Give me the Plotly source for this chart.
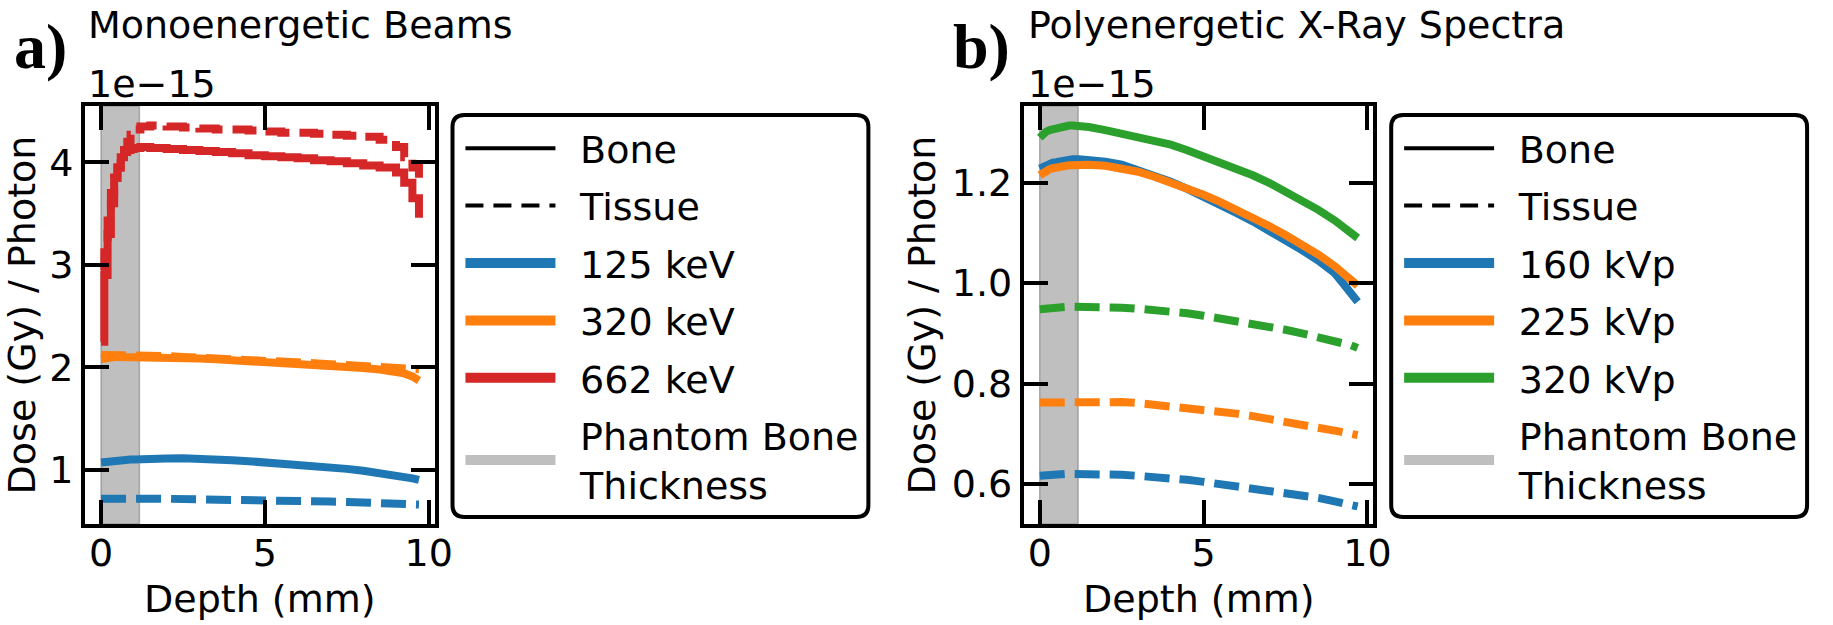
import plotly.graph_objects as go

# ---------------- data (dose per photon in units of 1e-15 Gy) ----------------
depth = [0.0, 0.1, 0.2, 0.3, 0.4, 0.5, 0.6, 0.7, 0.8, 0.9, 1.0, 1.2, 1.5, 2.0, 2.5,
         3.0, 3.5, 4.0, 4.5, 5.0, 5.5, 6.0, 6.5, 7.0, 7.5, 8.0, 8.5, 9.0, 9.25, 9.5, 9.7]

bone_thickness = [0.0, 1.17]

# panel a) monoenergetic beams
mono_labels = ["125 keV", "320 keV", "662 keV"]
mono_125_bone = [1.07, 1.075, 1.08, 1.083, 1.086, 1.089, 1.092, 1.095, 1.097, 1.099, 1.10, 1.105,
                 1.108, 1.11, 1.112, 1.11, 1.10, 1.092, 1.083, 1.073, 1.062, 1.05, 1.037, 1.023,
                 1.008, 0.99, 0.97, 0.945, 0.93, 0.915, 0.90]
mono_125_tissue = [0.716, 0.717, 0.718, 0.718, 0.718, 0.718, 0.718, 0.718, 0.718, 0.718, 0.718,
                   0.718, 0.717, 0.716, 0.715, 0.713, 0.711, 0.709, 0.706, 0.703, 0.70, 0.697,
                   0.693, 0.689, 0.685, 0.68, 0.675, 0.669, 0.666, 0.663, 0.66]
mono_320_bone = [2.08, 2.09, 2.095, 2.10, 2.10, 2.10, 2.10, 2.10, 2.10, 2.10, 2.10, 2.10, 2.10,
                 2.095, 2.09, 2.085, 2.078, 2.07, 2.062, 2.055, 2.047, 2.038, 2.028, 2.018,
                 2.006, 1.993, 1.978, 1.955, 1.94, 1.91, 1.87]
mono_320_tissue = [2.12, 2.12, 2.12, 2.12, 2.12, 2.12, 2.12, 2.12, 2.12, 2.12, 2.12, 2.12, 2.115,
                   2.11, 2.10, 2.095, 2.088, 2.08, 2.073, 2.065, 2.057, 2.048, 2.04, 2.03, 2.02,
                   2.01, 2.0, 1.993, 1.99, 1.985, 1.98]
mono_662_bone = [2.25, 2.9, 3.3, 3.6, 3.85, 3.95, 4.05, 4.1, 4.12, 4.13, 4.14, 4.15, 4.14, 4.13,
                 4.12, 4.11, 4.10, 4.09, 4.07, 4.06, 4.05, 4.04, 4.02, 4.01, 3.99, 3.97, 3.95,
                 3.90, 3.80, 3.65, 3.46]
mono_662_tissue = [2.95, 3.2, 3.5, 3.7, 3.85, 3.95, 4.05, 4.12, 4.2, 4.27, 4.32, 4.35, 4.36, 4.35,
                   4.34, 4.33, 4.32, 4.32, 4.31, 4.30, 4.29, 4.29, 4.28, 4.27, 4.26, 4.25, 4.22,
                   4.15, 4.05, 3.95, 3.85]

# panel b) polyenergetic x-ray spectra
poly_labels = ["160 kVp", "225 kVp", "320 kVp"]
poly_160_bone = [1.228, 1.232, 1.235, 1.238, 1.24, 1.241, 1.243, 1.244, 1.245, 1.246, 1.247,
                 1.247, 1.246, 1.242, 1.236, 1.226, 1.215, 1.202, 1.188, 1.173, 1.157, 1.14,
                 1.123, 1.105, 1.085, 1.066, 1.045, 1.02, 1.0, 0.98, 0.963]
poly_160_tissue = [0.616, 0.617, 0.618, 0.618, 0.619, 0.619, 0.62, 0.62, 0.62, 0.62, 0.62, 0.62,
                   0.62, 0.619, 0.618, 0.616, 0.614, 0.611, 0.608, 0.604, 0.60, 0.596, 0.592,
                   0.587, 0.583, 0.578, 0.572, 0.565, 0.562, 0.558, 0.555]
poly_225_bone = [1.215, 1.22, 1.224, 1.227, 1.229, 1.231, 1.232, 1.233, 1.234, 1.235, 1.235,
                 1.236, 1.236, 1.234, 1.229, 1.222, 1.212, 1.201, 1.189, 1.176, 1.162, 1.147,
                 1.131, 1.114, 1.096, 1.077, 1.057, 1.034, 1.02, 1.007, 0.995]
poly_225_tissue = [0.762, 0.762, 0.763, 0.763, 0.764, 0.764, 0.764, 0.765, 0.765, 0.765, 0.765,
                   0.765, 0.765, 0.764, 0.763, 0.761, 0.758, 0.755, 0.752, 0.748, 0.744, 0.74,
                   0.735, 0.73, 0.725, 0.719, 0.713, 0.706, 0.703, 0.70, 0.697]
poly_320_bone = [1.29, 1.298, 1.302, 1.305, 1.307, 1.309, 1.31, 1.312, 1.313, 1.314, 1.314,
                 1.314, 1.311, 1.305, 1.298, 1.29, 1.284, 1.276, 1.265, 1.253, 1.24, 1.228,
                 1.215, 1.20, 1.183, 1.166, 1.146, 1.125, 1.113, 1.10, 1.09]
poly_320_tissue = [0.948, 0.949, 0.95, 0.951, 0.951, 0.952, 0.952, 0.953, 0.953, 0.953, 0.953,
                   0.953, 0.953, 0.952, 0.951, 0.949, 0.947, 0.944, 0.94, 0.935, 0.93, 0.925,
                   0.919, 0.913, 0.907, 0.90, 0.893, 0.884, 0.88, 0.876, 0.871]

colors = ["#1f77b4", "#ff7f0e", "#d62728"]
colors_b = ["#1f77b4", "#ff7f0e", "#2ca02c"]

# ---------------- figure ----------------
W, H = 1833, 625
FONT = "DejaVu Sans"
FS = 38
GAP = "\u00a0\u2009"

fig = go.Figure()

def px_x(p):
    return p / W

def px_y(p):
    return 1 - p / H

yr_a = [0.47, 4.55]
yr_b = [0.52, 1.353]
xr = [-0.485, 10.18]

def add_panel(xa, ya, leg, yr, labels, cols, shapes, series):
    # bone thickness band
    fig.add_trace(go.Scatter(
        x=[bone_thickness[0], bone_thickness[1], bone_thickness[1], bone_thickness[0], bone_thickness[0]],
        y=[yr[0], yr[0], yr[1], yr[1], yr[0]],
        xaxis=xa, yaxis=ya, mode="lines", fill="toself",
        fillcolor="rgba(128,128,128,0.5)", line=dict(color="rgba(128,128,128,0.6)", width=1.5),
        showlegend=False, hoverinfo="skip"))
    for (bone, tissue), c, sh in zip(series, cols, shapes):
        fig.add_trace(go.Scatter(x=depth, y=tissue, xaxis=xa, yaxis=ya, mode="lines",
                                 line=dict(color=c, width=8, dash="25px,10px", shape=sh),
                                 showlegend=False))
        fig.add_trace(go.Scatter(x=depth, y=bone, xaxis=xa, yaxis=ya, mode="lines",
                                 line=dict(color=c, width=8, shape=sh),
                                 showlegend=False))
    # legend entries
    fig.add_trace(go.Scatter(x=[None], y=[None], xaxis=xa, yaxis=ya, mode="lines", name=GAP + "Bone",
                             line=dict(color="black", width=4), legend=leg, legendgroup=leg + "1"))
    fig.add_trace(go.Scatter(x=[None], y=[None], xaxis=xa, yaxis=ya, mode="lines", name=GAP + "Tissue",
                             line=dict(color="black", width=4, dash="18px,10px"), legend=leg,
                             legendgroup=leg + "2"))
    for i, (lab, c) in enumerate(zip(labels, cols)):
        fig.add_trace(go.Scatter(x=[None], y=[None], xaxis=xa, yaxis=ya, mode="lines", name=GAP + lab,
                                 line=dict(color=c, width=15), legend=leg,
                                 legendgroup=leg + str(i + 3)))
    fig.add_trace(go.Scatter(x=[None], y=[None], xaxis=xa, yaxis=ya, mode="lines",
                             name=GAP + "Phantom Bone<br>" + GAP + "Thickness",
                             line=dict(color="#bfbfbf", width=27), legend=leg,
                             legendgroup=leg + "9"))

add_panel("x", "y", "legend", yr_a, mono_labels, colors, ["linear", "linear", "hv"],
          [(mono_125_bone, mono_125_tissue), (mono_320_bone, mono_320_tissue),
           (mono_662_bone, mono_662_tissue)])
add_panel("x2", "y2", "legend2", yr_b, poly_labels, colors_b, ["linear", "linear", "linear"],
          [(poly_160_bone, poly_160_tissue), (poly_225_bone, poly_225_tissue),
           (poly_320_bone, poly_320_tissue)])

axis_common = dict(showline=True, linewidth=4, linecolor="black", mirror="allticks",
                   ticks="inside", ticklen=24, tickwidth=4, tickcolor="black",
                   showgrid=False, zeroline=False,
                   tickfont=dict(family=FONT, size=FS, color="black"))

legend_common = dict(xanchor="left", yanchor="top", bgcolor="rgba(0,0,0,0)", borderwidth=0,
                     itemwidth=90, tracegroupgap=5, font=dict(family=FONT, size=FS),
                     itemclick=False, itemdoubleclick=False)

fig.update_layout(
    width=W, height=H, margin=dict(l=0, r=0, t=0, b=0),
    paper_bgcolor="white", plot_bgcolor="white",
    font=dict(family=FONT, size=FS, color="black"),
    xaxis=dict(domain=[px_x(86), px_x(439)], range=xr, tickvals=[0, 5, 10],
               ticklabelstandoff=-8, **axis_common),
    yaxis=dict(domain=[px_y(524), px_y(106)], range=yr_a, tickvals=[1, 2, 3, 4],
               title=dict(text="Dose (Gy) / Photon", font=dict(size=FS), standoff=6), **axis_common),
    xaxis2=dict(domain=[px_x(1034), px_x(1387)], range=xr, tickvals=[0, 5, 10], anchor="y2",
                ticklabelstandoff=-8, **axis_common),
    yaxis2=dict(domain=[px_y(524), px_y(106)], range=yr_b, tickvals=[0.6, 0.8, 1.0, 1.2],
                tickformat=".1f", anchor="x2",
                title=dict(text="Dose (Gy) / Photon", font=dict(size=FS), standoff=6), **axis_common),
    legend=dict(x=px_x(465), y=px_y(117), **legend_common),
    legend2=dict(x=px_x(1413), y=px_y(117), **legend_common),
)

# rounded legend frames
def rounded_rect(x0, y0, x1, y1, r):
    X = lambda p: p / W
    Y = lambda p: 1 - p / H
    return (f"M {X(x0 + r)},{Y(y0)} L {X(x1 - r)},{Y(y0)} Q {X(x1)},{Y(y0)} {X(x1)},{Y(y0 + r)} "
            f"L {X(x1)},{Y(y1 - r)} Q {X(x1)},{Y(y1)} {X(x1 - r)},{Y(y1)} "
            f"L {X(x0 + r)},{Y(y1)} Q {X(x0)},{Y(y1)} {X(x0)},{Y(y1 - r)} "
            f"L {X(x0)},{Y(y0 + r)} Q {X(x0)},{Y(y0)} {X(x0 + r)},{Y(y0)} Z")

for x0 in (457, 1405):
    fig.add_shape(type="path", xref="paper", yref="paper",
                  path=rounded_rect(x0, 115, x0 + 420, 517, 12),
                  line=dict(color="black", width=4), fillcolor="white", layer="below")

# panel labels, titles, offset text, x-axis titles
for xl, lab in ((12, "a)"), (960, "b)")):
    fig.add_annotation(x=px_x(xl), y=px_y(46), xref="paper", yref="paper", xanchor="left",
                       yanchor="middle", text="<b>" + lab + "</b>", showarrow=False,
                       font=dict(family="Liberation Serif", size=64, color="black"))
for xl, title in ((87, "Monoenergetic Beams"), (1036, "Polyenergetic X-Ray Spectra")):
    fig.add_annotation(x=px_x(xl), y=px_y(25), xref="paper", yref="paper", xanchor="left",
                       yanchor="middle", text=title, showarrow=False,
                       font=dict(family=FONT, size=FS, color="black"))
    fig.add_annotation(x=px_x(xl), y=px_y(84), xref="paper", yref="paper", xanchor="left",
                       yanchor="middle", text="1e\u221215", showarrow=False,
                       font=dict(family=FONT, size=FS, color="black"))
for xc in ((86 + 439) / 2, (1034 + 1387) / 2):
    fig.add_annotation(x=px_x(xc), y=px_y(599), xref="paper", yref="paper", xanchor="center",
                       yanchor="middle", text="Depth (mm)", showarrow=False, borderpad=0,
                       font=dict(family=FONT, size=FS, color="black"))

fig.write_html("out.html", config={"displayModeBar": False},
               post_script="document.body.style.margin='0';")
